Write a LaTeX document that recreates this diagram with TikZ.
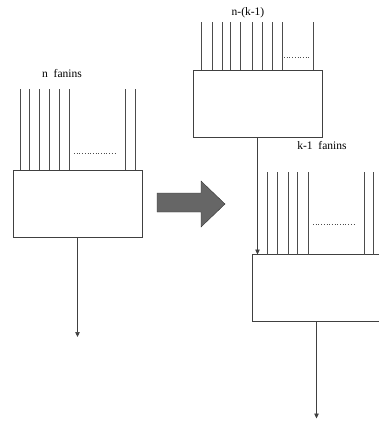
\documentclass[tikz,border=0pt]{standalone}
\usepackage{fontspec}
\setmainfont{Liberation Serif}
\usetikzlibrary{arrows.meta,positioning}
\begin{document}
\begin{tikzpicture}[x=1pt,y=-1pt,
 gate/.style={draw=black!75,line width=0.7pt,minimum width=129pt,minimum height=67pt,inner sep=0pt,outer sep=0pt},
 fanin/.style={draw=black!70,line width=0.7pt},
 more/.style={draw=black!70,line width=0.7pt,dotted},
 arr/.style={draw=black!75,line width=0.7pt,-{Triangle[length=5pt,width=4.5pt]}},
 lbl/.style={font=\fontsize{11.5}{13}\selectfont,inner sep=0pt}]
\clip (0,0) rectangle (379,425);
\node[gate] (lbox) at (77.5,203.5) {};
\node[gate] (tbox) at (257.5,103.5) {};
\node[gate] (bbox) at (316.5,288) {};
\node[lbl] (nlbl) at (62,74) {n\enspace fanins};
\node[lbl] (tlbl) at (248,13) {n-(k-1)};
\node[lbl] (klbl) at (322,146) {k-1\enspace fanins};
\foreach \dx in {7,16,26,36,46,56,112,122}
  \draw[fanin] ([xshift=\dx pt]lbox.north west) -- ++(0,-81);
\draw[more] ([xshift=61pt,yshift=17pt]lbox.north west) -- ++(43,0);
\foreach \dx in {8,19,29,37,47,59,69,79,89,120}
  \draw[fanin] ([xshift=\dx pt]tbox.north west) -- ++(0,-48);
\draw[more] ([xshift=91pt,yshift=13pt]tbox.north west) -- ++(26,0);
\foreach \dx in {15,25,36,45,56,112,121}
  \draw[fanin] ([xshift=\dx pt]bbox.north west) -- ++(0,-83);
\draw[more] ([xshift=61pt,yshift=30pt]bbox.north west) -- ++(41,0);
\draw[arr] (tbox.south) -- (tbox.south |- bbox.north);
\draw[arr] (lbox.south) -- ++(0,100);
\draw[arr] (bbox.south) -- ++(0,97);
\filldraw[draw=black!80,fill=black!60] (157,193) -- (201,193) -- (201,181) -- (225,204)
  -- (201,227) -- (201,212) -- (157,212) -- cycle;
\end{tikzpicture}
\end{document}
